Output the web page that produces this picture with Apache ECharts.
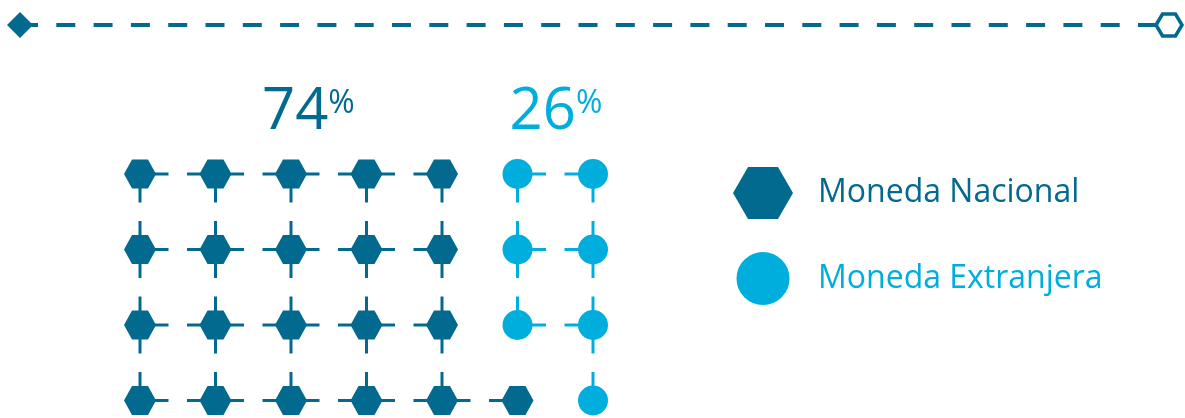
<!DOCTYPE html>
<html>
<head>
<meta charset="utf-8">
<script src="https://cdn.jsdelivr.net/npm/echarts@6/dist/echarts.min.js"></script>
<style>
  html, body { margin: 0; padding: 0; background: #fff; }
  #chart { width: 1185px; height: 418px; }
</style>
</head>
<body>
<div id="chart"></div>
<script>
// data
const seriesNames = ['Moneda Nacional', 'Moneda Extranjera'];
const shares = [74, 26];
// where each percentage label is centred, in column units
const shareLabelX = [2.23, 5.51];
// 0 = Moneda Nacional, 1 = Moneda Extranjera
const cells = [
  [0, 0, 0, 0, 0, 1, 1],
  [0, 0, 0, 0, 0, 1, 1],
  [0, 0, 0, 0, 0, 1, 1],
  [0, 0, 0, 0, 0, 0, 1]
];

const DARK = '#02698f';
const LIGHT = '#00aede';
const colors = [DARK, LIGHT];
const FONT = '"Open Sans", sans-serif';

const STEM = 28.5;
const HEX_W = 16, HEX_H = 14.5;

function cellsOf(type) {
  const out = [];
  cells.forEach((row, r) => row.forEach((t, c) => { if (t === type) out.push([c, r]); }));
  return out;
}

function same(r, c, type) {
  return cells[r] !== undefined && cells[r][c] === type;
}

function renderCell(type) {
  return function (params, api) {
    const c = api.value(0), r = api.value(1);
    const p = api.coord([c, r]);
    const color = colors[type];
    const children = [];
    const dirs = [[0, -1], [0, 1], [-1, 0], [1, 0]];
    dirs.forEach(([dc, dr]) => {
      if (same(r + dr, c + dc, type)) {
        children.push({
          type: 'line',
          shape: { x1: p[0], y1: p[1], x2: p[0] + dc * STEM, y2: p[1] + dr * STEM },
          style: { stroke: color, lineWidth: 3 }
        });
      }
    });
    if (type === 0) {
      children.push({
        type: 'polygon',
        shape: { points: [
          [p[0] - HEX_W, p[1]], [p[0] - HEX_W / 2, p[1] - HEX_H], [p[0] + HEX_W / 2, p[1] - HEX_H],
          [p[0] + HEX_W, p[1]], [p[0] + HEX_W / 2, p[1] + HEX_H], [p[0] - HEX_W / 2, p[1] + HEX_H]
        ] },
        style: { fill: color }
      });
    } else {
      children.push({ type: 'circle', shape: { cx: p[0], cy: p[1], r: 15 }, style: { fill: color } });
    }
    return { type: 'group', children };
  };
}

const chart = echarts.init(document.getElementById('chart'));

const option = {
  animation: false,
  grid: { left: 102.25, right: 554.25, top: 136.25, bottom: 17.5 },
  xAxis: { type: 'value', min: -0.5, max: 6.5, show: false },
  yAxis: { type: 'value', min: -0.5, max: 3, inverse: true, show: false },
  legend: {
    orient: 'vertical',
    left: 733,
    top: 167,
    padding: 0,
    itemWidth: 60,
    itemHeight: 53,
    itemGap: 33,
    selectedMode: false,
    textStyle: { fontFamily: FONT, fontSize: 32, padding: [0, 0, 0, 20] },
    data: [
      { name: seriesNames[0], icon: 'path://M0,26L15,0L45,0L60,26L45,52L15,52Z', textStyle: { color: DARK } },
      { name: seriesNames[1], icon: 'circle', textStyle: { color: LIGHT } }
    ]
  },
  graphic: [
    {
      type: 'line',
      shape: { x1: 19, y1: 25, x2: 1160, y2: 25 },
      style: { stroke: DARK, lineWidth: 4, lineDash: [19, 18.3] }
    },
    {
      type: 'polygon',
      shape: { points: [[7, 25], [20, 12], [33, 25], [20, 38]] },
      style: { fill: DARK }
    },
    {
      type: 'line',
      shape: { x1: 1139, y1: 25, x2: 1158, y2: 25 },
      style: { stroke: DARK, lineWidth: 4 }
    },
    {
      type: 'polygon',
      shape: { points: [[1156, 25], [1162.5, 14], [1175.5, 14], [1182, 25], [1175.5, 36], [1162.5, 36]] },
      style: { fill: '#fff', stroke: DARK, lineWidth: 3.5 }
    }
  ],
  series: [
    {
      name: seriesNames[0],
      type: 'custom',
      itemStyle: { color: DARK },
      renderItem: renderCell(0),
      data: cellsOf(0)
    },
    {
      name: seriesNames[1],
      type: 'custom',
      itemStyle: { color: LIGHT },
      renderItem: renderCell(1),
      data: cellsOf(1)
    },
    {
      type: 'custom',
      renderItem: function (params, api) {
        const i = params.dataIndex;
        const p = api.coord([api.value(0), -0.5]);
        return {
          type: 'text',
          x: p[0],
          y: p[1] + 6,
          style: {
            text: '{n|' + api.value(1) + '}{p|%}',
            align: 'center',
            verticalAlign: 'bottom',
            fontFamily: FONT,
            rich: {
              n: { fontSize: 58, fontFamily: FONT, fill: colors[i], color: colors[i], lineHeight: 60 },
              p: { fontSize: 32, fontFamily: FONT, fill: colors[i], color: colors[i], lineHeight: 60, padding: [0, 0, 16, 0] }
            }
          }
        };
      },
      data: shares.map((v, i) => [shareLabelX[i], v])
    }
  ]
};

chart.setOption(option);
</script>
</body>
</html>
